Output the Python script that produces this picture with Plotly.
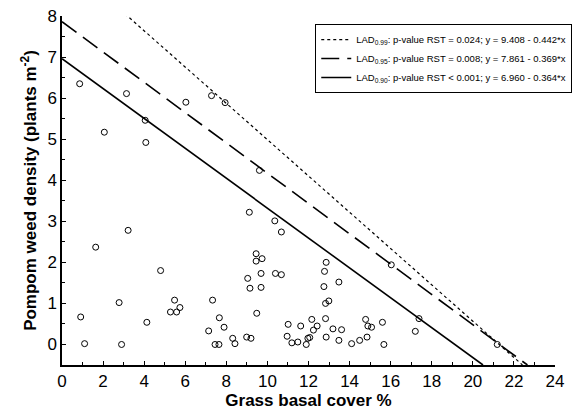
import plotly.graph_objects as go
import numpy as np

# Observed data (grass basal cover %, pompom weed density)
grass_cover = [0.86, 3.14, 6.03, 4.05, 2.06, 4.08, 7.28, 7.94, 9.61, 9.12, 10.36, 10.68,
               3.22, 1.64, 4.8, 2.78, 0.91, 4.13, 5.48, 5.74, 5.28, 5.58, 1.1, 2.9,
               9.45, 9.74, 9.45, 9.69, 10.39, 10.68, 9.04, 9.15, 9.69, 7.33, 9.48, 7.66,
               7.14, 7.89, 8.31, 8.42, 8.99, 9.2, 7.45, 7.64,
               11.01, 11.62, 10.96, 11.19, 11.48, 11.89, 11.97, 12.06,
               12.86, 12.78, 13.48, 12.75, 12.99, 12.83, 12.16, 12.83, 12.42, 12.24, 13.19,
               13.61, 12.86, 13.48,
               14.78, 14.89, 15.07, 15.6, 14.85, 14.49, 14.1, 15.67,
               16.03, 17.38, 17.2, 21.19]
weed_density = [6.35, 6.11, 5.90, 5.46, 5.17, 4.92, 6.06, 5.89, 4.24, 3.22, 3.01, 2.74,
                2.78, 2.37, 1.80, 1.02, 0.67, 0.54, 1.08, 0.90, 0.79, 0.79, 0.02, 0.0,
                2.21, 2.09, 2.03, 1.73, 1.73, 1.70, 1.61, 1.37, 1.39, 1.08, 0.76, 0.65,
                0.33, 0.42, 0.15, 0.02, 0.18, 0.15, 0.0, 0.0,
                0.49, 0.45, 0.20, 0.04, 0.06, 0.0, 0.15, 0.17,
                2.0, 1.78, 1.52, 1.41, 1.06, 1.0, 0.61, 0.63, 0.45, 0.35, 0.38,
                0.36, 0.18, 0.10,
                0.61, 0.45, 0.42, 0.54, 0.18, 0.10, 0.02, 0.0,
                1.94, 0.63, 0.32, 0.0]

# Regression lines (LAD quantiles)
line_names = ["LAD<sub>0.99</sub>: p-value RST = 0.024; y = 9.408 - 0.442*x",
              "LAD<sub>0.95</sub>: p-value RST = 0.008; y = 7.861 - 0.369*x",
              "LAD<sub>0.90</sub>: p-value RST &lt; 0.001; y = 6.960 - 0.364*x"]
intercepts = [9.408, 7.861, 6.960]
slopes = [-0.442, -0.369, -0.364]
dashes = ["dot", "18px,8px", "solid"]
widths = [1.2, 1.6, 1.6]

y_min = -0.5
fig = go.Figure()
for name, a, b, d, w in zip(line_names, intercepts, slopes, dashes, widths):
    x_end = (y_min - a) / b
    xs = np.linspace(0, x_end, 200)
    ys = a + b * xs
    fig.add_trace(go.Scatter(x=xs, y=ys, mode="lines", name=name,
                             line=dict(color="black", width=w, dash=d)))

fig.add_trace(go.Scatter(x=grass_cover, y=weed_density, mode="markers", showlegend=False,
                         marker=dict(symbol="circle-open", size=6, color="black",
                                     line=dict(width=1, color="black"))))

font = "Liberation Sans, Arial, Helvetica, sans-serif"
fig.update_layout(
    width=577, height=418,
    margin=dict(l=62, r=22, t=16, b=53, autoexpand=False),
    plot_bgcolor="white", paper_bgcolor="white",
    font=dict(family=font, color="black"),
    showlegend=True,
    legend=dict(x=1.035, y=0.977, xanchor="right", yanchor="top",
                bordercolor="black", borderwidth=1, bgcolor="white",
                font=dict(size=9.5, family=font), tracegroupgap=0,
                itemwidth=30),
    xaxis=dict(range=[0, 24], dtick=2, tick0=0, showline=True, linecolor="black", linewidth=1.5,
               ticks="inside", ticklen=4, tickcolor="black", showgrid=False, zeroline=False,
               tickfont=dict(size=17), mirror=False,
               minor=dict(ticks="inside", ticklen=3, dtick=1, tickcolor="black", showgrid=False),
               title=dict(text="<b>Grass basal cover %</b>", font=dict(size=17), standoff=4)),
    yaxis=dict(range=[-0.5, 8], dtick=1, tick0=0, showline=True, linecolor="black", linewidth=1.5,
               ticks="inside", ticklen=4, tickcolor="black", showgrid=False, zeroline=False,
               tickfont=dict(size=17),
               minor=dict(ticks="inside", ticklen=3, dtick=0.5, tickcolor="black", showgrid=False),
               title=dict(text="<b>Pompom weed density (plants m<sup>-2</sup>)</b>",
                          font=dict(size=17), standoff=6)),
)

fig.write_html("out.html")
